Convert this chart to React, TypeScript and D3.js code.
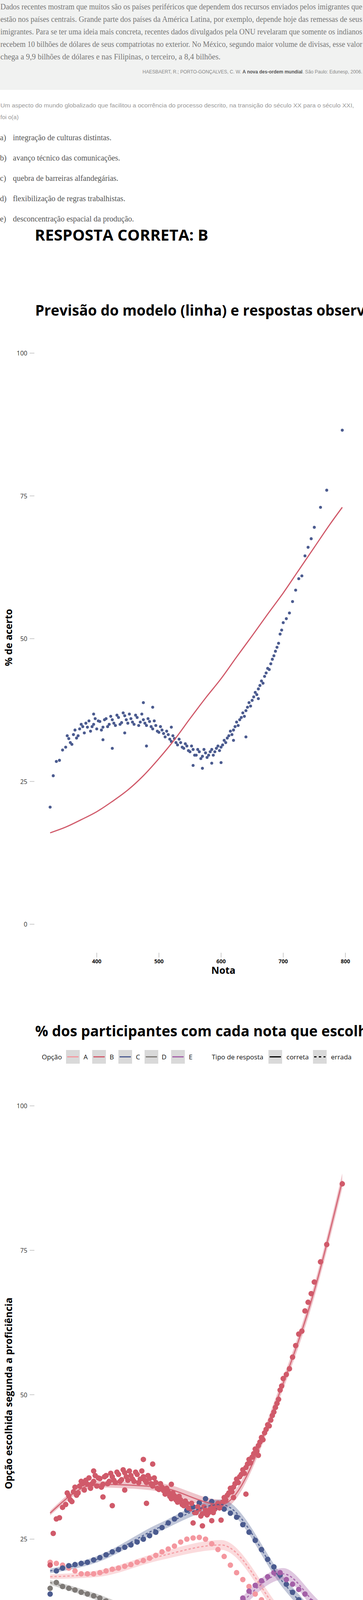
import React from "react";
import * as d3 from "d3";

// ---- texto da questão ----
const textoBase = [
  "Dados recentes mostram que muitos são os países periféricos que dependem dos recursos enviados pelos imigrantes que",
  "estão nos países centrais. Grande parte dos países da América Latina, por exemplo, depende hoje das remessas de seus",
  "imigrantes. Para se ter uma ideia mais concreta, recentes dados divulgados pela ONU revelaram que somente os indianos",
  "recebem 10 bilhões de dólares de seus compatriotas no exterior. No México, segundo maior volume de divisas, esse valor",
  "chega a 9,9 bilhões de dólares e nas Filipinas, o terceiro, a 8,4 bilhões.",
];
const enunciado = [
  "Um aspecto do mundo globalizado que facilitou a ocorrência do processo descrito, na transição do século XX para o século XXI,",
  "foi o(a)",
];
const alternativas = [
  ["a)", "integração de culturas distintas."],
  ["b)", "avanço técnico das comunicações."],
  ["c)", "quebra de barreiras alfandegárias."],
  ["d)", "flexibilização de regras trabalhistas."],
  ["e)", "desconcentração espacial da produção."],
];

// ---- gráfico 1: acerto observado x nota ----
const notaObs = [
  325, 330, 335, 340, 345, 350, 355, 360, 365, 370, 375, 380, 385, 390, 395, 400, 405, 410, 415, 420,
  425, 430, 435, 440, 445, 450, 455, 460, 465, 470, 475, 480, 485, 490, 495, 500, 505, 510, 515, 520,
  525, 530, 535, 540, 545, 550, 555, 560, 565, 570, 575, 580, 585, 590, 595, 600, 605, 610, 615, 620,
  625, 630, 635, 640, 645, 650, 655, 660, 665, 670, 675, 680, 685, 690, 695, 700, 705, 710, 715, 720,
  725, 730, 735, 740, 745, 750, 760, 770, 795,
];
const acertoObs = [
  20.5, 26, 28.5, 28.7, 30.5, 31, 32.5, 31.5, 34, 33, 35, 33.5, 34.5, 33.8, 35, 34.2, 35.5, 34.5, 36, 35,
  35.8, 34.8, 36.2, 35.3, 36.5, 35.2, 36, 35, 36.2, 35.4, 35.8, 34.8, 35.5, 34.2, 34.8, 33.6, 34, 32.8, 33.2, 32,
  32.5, 31.4, 31.8, 30.8, 31.2, 30.2, 30.6, 29.6, 30.2, 29.4, 30, 29.6, 30.6, 30.2, 31.2, 31, 32.2, 32.6, 33.8, 34,
  35.4, 35.8, 37, 37.4, 38.8, 39.2, 40.6, 41.2, 42.6, 43.4, 44.8, 45.6, 47, 48.5, 50.8, 52.8, 53.5, 54.5, 56.5, 58.5,
  60.5, 61, 64.5, 66, 67.5, 69.5, 73, 76, 86.5,
];
const notaObs2 = [
  352.5, 357.5, 362.5, 367.5, 372.5, 377.5, 382.5, 387.5, 392.5, 397.5, 402.5, 407.5, 412.5, 417.5, 422.5, 427.5, 432.5, 437.5,
  442.5, 447.5, 452.5, 457.5, 462.5, 467.5, 472.5, 477.5, 482.5, 487.5, 492.5, 497.5, 502.5, 507.5, 512.5, 517.5, 522.5, 527.5,
  532.5, 537.5, 542.5, 547.5, 552.5, 557.5, 562.5, 567.5, 572.5, 577.5, 582.5, 587.5, 592.5, 597.5, 602.5, 607.5, 612.5, 617.5,
  622.5, 627.5, 632.5, 637.5, 642.5, 647.5, 652.5, 657.5, 662.5, 667.5, 672.5, 677.5, 682.5, 687.5, 692.5, 697.5,
];
const acertoObs2 = [
  33, 31.8, 33.2, 32.6, 34.2, 34.6, 35.2, 35.6, 34.6, 36, 35.6, 34, 35.8, 34.6, 36.4, 35.2, 36.6, 35,
  37, 35.8, 36.8, 35.4, 36.6, 34.8, 36.8, 35.2, 36, 34.6, 35.6, 33.8, 34.6, 33.4, 33.8, 32.4, 33, 31.8,
  32.4, 31, 31.6, 30.4, 31.2, 29.6, 30.6, 29, 30.6, 29.2, 30.2, 29.6, 30.8, 30.4, 31.4, 31.8, 33, 33.2,
  34.6, 34.8, 36.2, 36.4, 38, 38.2, 39.8, 40.2, 41.8, 42.2, 44, 44.6, 46.4, 47.8, 49.2, 51.5,
];
const notaExtra = [410, 425, 475, 480, 490, 555, 570, 600, 640, 395, 445, 520, 585, 620, 660];
const acertoExtra = [32.3, 30.8, 38.8, 31.2, 38, 27.8, 27.3, 28.3, 32.8, 36.8, 33.5, 34.5, 28.2, 32.2, 39.5];
const notaModelo = [325, 350, 375, 400, 425, 450, 475, 500, 525, 550, 575, 600, 625, 650, 675, 700, 725, 750, 775, 795];
const acertoModelo = [16, 17, 18.3, 19.7, 21.5, 23.5, 26, 29, 32.3, 36, 39.6, 43, 46.8, 50.5, 54.3, 58, 62, 66, 70, 73];

// ---- gráfico 2: % por opção ----
const notaOpcao = [
  325, 335, 345, 355, 365, 375, 385, 395, 405, 415, 425, 435, 445, 455, 465, 475, 485, 495, 505, 515, 525, 535, 545, 555,
  565, 575, 585, 595, 605, 615, 625, 635, 645, 655, 665, 675, 685, 695, 705, 715, 725, 735, 745, 755, 765, 775, 785, 795,
];
const opcaoA = [
  21, 20.8, 20.5, 20, 19.5, 19, 19, 19, 19.2, 19.5, 19.8, 20, 20.3, 20.6, 21, 21.3, 21.7, 22.2, 22.8, 23.3, 23.8, 24.5, 25, 25.2,
  25.3, 25, 24.2, 23.2, 22, 20.5, 19.2, 18, 16.8, 15.5, 14.5, 13.3, 12.4, 11.3, 10.3, 9.2, 8, 7, 6, 5, 4.2, 3.5, 2.8, 1.8,
];
const opcaoC = [
  15.5, 19.5, 20, 20.4, 20.6, 20.8, 21, 21.4, 21.8, 22.3, 22.8, 23.2, 23.6, 24, 24.5, 25, 25.6, 26.2, 27, 27.8, 28.5, 29.2, 30, 30.6,
  31.3, 32, 31.5, 30.6, 30.2, 29.5, 28.8, 27.5, 26.2, 24.8, 23.2, 21.5, 20.2, 18.8, 17.2, 15.8, 14.5, 13.5, 12.5, 11, 9.8, 8.5, 7, 5,
];
const opcaoD = [
  16.5, 17.5, 16.8, 16.5, 16.2, 15.8, 15.5, 15.2, 14.8, 14.3, 13.8, 13.3, 12.8, 12.4, 12, 11.5, 11, 10.5, 10, 9.6, 9.2, 8.8, 8.5, 8.3,
  8.1, 7.9, 7.6, 7.5, 7.4, 7.2, 7, 6.8, 6.5, 6.2, 6, 5.7, 5.4, 5.1, 4.9, 4.7, 4.5, 4.2, 4, 3.6, 3.3, 2.8, 2.3, 1.8,
];
const opcaoE = [
  9, 12, 11.8, 11.2, 10.8, 10.4, 10, 9.7, 9.4, 9.1, 8.8, 8.4, 8.1, 7.8, 7.5, 7.2, 7, 6.7, 6.5, 6.3, 6.2, 6.2, 6.3, 6.8,
  7.5, 8.5, 9.6, 10.8, 12, 13, 13.8, 14.8, 16, 17, 17.8, 18.5, 19.2, 19.2, 18, 17.2, 16.3, 15.5, 14.2, 13.2, 12.2, 10.5, 9.5, 5,
];
const notaCurva = [325, 400, 500, 600, 700, 750, 795];
const curvaA = [18.5, 19, 22, 24, 11.5, 6, 1.5];
const curvaB = [29.5, 34.5, 34, 31, 52, 68, 87];
const curvaC = [19.5, 21.5, 27, 31, 17.5, 11, 3];
const curvaD = [17.5, 15, 10.5, 7.5, 5, 4, 2];
const curvaE = [11, 9.5, 6.5, 11, 19, 14, 8.5];
const opcoes = ["A", "B", "C", "D", "E"];
const coresOpcao = ["#f4979f", "#d05a6a", "#4b5b8f", "#7e7a77", "#a35fa7"];

// ---- gráfico 3: quanto acertar somou ----
const acertosDenso = [1, 2, 3, 4, 5, 6, 7, 8, 9, 10, 11, 12, 13, 14, 15, 16, 17, 18, 19, 20, 21];
const densoMin = [0.7, 0.7, 0.7, 0.8, 0.8, 0.8, 1.0, 1.1, 1.4, 1.5, 1.6, 1.6, 1.7, 1.8, 1.9, 1.9, 2.1, 2.2, 2.2, 2.4, 2.5];
const densoMax = [1.1, 1.3, 1.7, 1.9, 2.3, 2.5, 2.6, 2.9, 3.1, 3.0, 3.1, 3.0, 3.0, 3.0, 2.6, 2.9, 2.7, 2.9, 2.9, 2.7, 3.1];
const pontosSoltos: [number, number[]][] = [
  [8, [3.3, 3.0]],
  [9, [6.2]],
  [10, [3.3, 3.9, 4.1, 6.5]],
  [11, [3.5, 3.3]],
  [12, [3.4, 3.3]],
  [14, [3.3, 4.0]],
  [15, [3.1]],
  [16, [3.3]],
  [17, [3.5, 2.3]],
  [22, [3.06, 2.87, 2.57]],
  [23, [3.26, 2.87]],
  [24, [3.8, 3.56, 3.16, 2.74]],
  [25, [4.3, 3.86, 3.41]],
  [26, [4.5, 3.86, 3.6]],
  [27, [4.56, 4.36, 3.76, 3.5]],
  [28, [4.86, 4.4, 4.1]],
  [29, [4.88, 4.56, 4.0, 3.8]],
  [30, [5.18, 4.73, 4.48, 4.24]],
  [31, [5.98, 5.23, 4.48]],
  [32, [6.28, 6.05, 5.73, 5.4, 4.98, 4.3]],
  [33, [7.28, 6.8, 6.55, 6.23, 5.73]],
  [34, [9.4, 8.97, 7.9, 7.4, 6.98, 6.68, 6.35, 6.1, 5.68]],
  [35, [11.1, 10.4, 9.77, 9.47, 9.22, 8.85, 8.3, 7.77, 7.48, 6.78]],
  [36, [10.9, 9.77, 9.52, 9.3, 8.9, 8.3, 7.3]],
  [37, [15.0, 13.4, 13.0, 12.6, 12.15, 11.5, 11.2, 10.96, 10.7, 10.3, 10.0, 9.6, 9.1, 8.7, 8.1, 7.6]],
  [38, [17.7, 17.4, 15.6, 15.1, 14.7, 14.2, 13.6, 13.3, 13.1, 12.8, 12.6, 12.3, 12.1, 11.8, 11.5, 11.2, 10.8, 10.5, 10.1, 9.6, 9.3, 8.4]],
  [39, [20.8, 20.2, 19.3, 18.6, 18.1, 16.6, 16.3, 15.9, 15.6, 15.3, 14.95, 14.6, 14.2, 13.95, 13.6, 13.2, 12.8, 12.5, 12.0, 11.3, 10.6, 10.1, 9.7]],
  [40, [24.7, 23.2, 22.5, 22.1, 21.2, 20.8, 20.4, 19.9, 19.4, 18.4, 17.9, 17.6, 16.9, 16.3, 15.7, 15.3, 14.8, 14.2, 13.3, 13.0, 12.3]],
  [41, [26.6, 25.0, 24.4, 23.9, 22.8, 22.5, 21.85, 21.6, 21.3, 20.9, 20.6, 20.2, 19.7, 18.9, 18.1, 17.6, 17.2, 16.8, 16.3, 15.8]],
  [42, [28.95, 28.8, 27.2, 27.0, 26.7, 24.4, 23.9, 23.2, 22.5, 21.6, 21.2, 19.9, 19.6, 18.8, 18.1, 15.3, 15.15]],
  [43, [28.95, 28.8, 24.5, 24.3, 23.5]],
  [44, [30.3]],
];

const SANS = "'Open Sans', 'Noto Sans', sans-serif";
const SERIF = "'Liberation Serif', serif";
const VERMELHO = "#d05a6a";
const AZUL = "#4b5b8f";

function EixoY({ y, ticks, x0 }: { y: d3.ScaleLinear<number, number>; ticks: number[]; x0: number }) {
  return (
    <g>
      {ticks.map((t) => (
        <g key={t}>
          <text x={x0 - 6} y={y(t) + 6} textAnchor="end" fontSize={16} fill="#333" fontFamily={SANS}>{t}</text>
          <line x1={x0} x2={x0 + 12} y1={y(t)} y2={y(t)} stroke="#bbb" strokeWidth={1.5} />
        </g>
      ))}
    </g>
  );
}

function EixoX({ x, ticks, yTick, titulo }: { x: d3.ScaleLinear<number, number>; ticks: number[]; yTick: number; titulo: string }) {
  return (
    <g>
      {ticks.map((t) => (
        <g key={t}>
          <line x1={x(t)} x2={x(t)} y1={yTick} y2={yTick + 12} stroke="#bbb" strokeWidth={1.5} />
          <text x={x(t)} y={yTick + 27} textAnchor="middle" fontSize={14} fontWeight="bold" fill="#111" fontFamily={SANS}>{t}</text>
        </g>
      ))}
      <text x={(x.range()[0] + x.range()[1]) / 2 + 6} y={yTick + 54} textAnchor="middle" fontSize={25} fontWeight="bold" fill="#000" fontFamily={SANS}>{titulo}</text>
    </g>
  );
}

function TituloY({ cx, cy, texto }: { cx: number; cy: number; texto: string }) {
  return (
    <text transform={`translate(${cx},${cy}) rotate(-90)`} textAnchor="middle" fontSize={25} fontWeight="bold" fill="#000" fontFamily={SANS} dy="0.35em">{texto}</text>
  );
}

export default function App() {
  // gráfico 1
  const x1 = d3.scaleLinear().domain([400, 800]).range([247.6, 883.9]);
  const y1 = d3.scaleLinear().domain([0, 100]).range([2366, 904]);
  const linha1 = d3.line<number>().x((_, i) => x1(notaModelo[i])).y((d) => y1(d)).curve(d3.curveCatmullRom);

  // gráfico 2
  const y2 = d3.scaleLinear().domain([0, 100]).range([4310, 2831]);
  const curvas = [curvaA, curvaB, curvaC, curvaD, curvaE];
  const pontos2 = [opcaoA, null, opcaoC, opcaoD, opcaoE];
  const linha2 = d3.line<number>().x((_, i) => x1(notaCurva[i])).y((d) => y2(d)).curve(d3.curveMonotoneX);
  const faixa2 = d3.area<number>().x((_, i) => x1(notaCurva[i])).y0((d, i) => y2(d - 0.4 - i * 0.15)).y1((d, i) => y2(d + 0.4 + i * 0.15)).curve(d3.curveMonotoneX);

  // gráfico 3
  const x3 = d3.scaleLinear().domain([0, 40]).range([100.7, 792]);
  const y3 = d3.scaleLinear().domain([0, 30]).range([6255, 4793]);

  const legendaOpcaoX = [169, 236, 303, 370, 438];

  return (
    <svg width={929} height={6403} style={{ position: "absolute", left: 0, top: 0, background: "#fff" }}>
      {/* bloco de texto */}
      <rect x={0} y={0} width={929} height={230} fill="#f1f2f1" />
      {textoBase.map((l, i) => (
        <text key={i} x={1} y={24 + i * 32} fontSize={20} fill="#777" fontFamily={SERIF} textLength={i < 4 ? 926 : undefined} lengthAdjust="spacingAndGlyphs">{l}</text>
      ))}
      <text x={927} y={188} textAnchor="end" fontSize={12} fill="#888" fontFamily="'Liberation Sans', sans-serif">
        HAESBAERT, R.; PORTO-GONÇALVES, C. W. <tspan fontWeight="bold" fill="#555">A nova des-ordem mundial</tspan>. São Paulo: Edunesp, 2006.
      </text>
      {enunciado.map((l, i) => (
        <text key={i} x={1} y={275 + i * 30} fontSize={15} fill="#999" fontFamily="'Liberation Sans Narrow', 'Liberation Sans', sans-serif" textLength={i === 0 ? 905 : undefined} lengthAdjust="spacingAndGlyphs">{l}</text>
      ))}
      {alternativas.map(([k, t], i) => (
        <g key={k} fontFamily={SERIF} fontSize={20} fill="#555">
          <text x={0} y={359 + i * 52}>{k}</text>
          <text x={33} y={359 + i * 52}>{t}</text>
        </g>
      ))}
      <text x={89} y={616} fontSize={40} fontWeight="bold" fill="#000" fontFamily={SANS} textLength={444} lengthAdjust="spacingAndGlyphs">RESPOSTA CORRETA: B</text>

      {/* gráfico 1 */}
      <text x={90} y={808} fontSize={37} fontWeight="bold" fill="#000" fontFamily={SANS}>Previsão do modelo (linha) e respostas observadas</text>
      <EixoY y={y1} ticks={[0, 25, 50, 75, 100]} x0={76} />
      <EixoX x={x1} ticks={[400, 500, 600, 700, 800]} yTick={2439} titulo="Nota" />
      <TituloY cx={22} cy={1632} texto="% de acerto" />
      {notaObs.map((n, i) => (
        <circle key={i} cx={x1(n)} cy={y1(acertoObs[i])} r={3.8} fill={AZUL} />
      ))}
      {notaObs2.map((n, i) => (
        <circle key={"b" + i} cx={x1(n)} cy={y1(acertoObs2[i])} r={3.8} fill={AZUL} />
      ))}
      {notaExtra.map((n, i) => (
        <circle key={"e" + i} cx={x1(n)} cy={y1(acertoExtra[i])} r={3.8} fill={AZUL} />
      ))}
      <path d={linha1(acertoModelo) ?? ""} fill="none" stroke={VERMELHO} strokeWidth={3} />

      {/* gráfico 2 */}
      <text x={90} y={2653} fontSize={37} fontWeight="bold" fill="#000" fontFamily={SANS}>% dos participantes com cada nota que escolheu cada opção</text>
      <g fontFamily={SANS} fontSize={17} fill="#111">
        <text x={107} y={2712}>Opção</text>
        {opcoes.map((o, i) => (
          <g key={o}>
            <rect x={legendaOpcaoX[i]} y={2688} width={35} height={35} fill="#d9d9d9" />
            <line x1={legendaOpcaoX[i] + 3} x2={legendaOpcaoX[i] + 32} y1={2705.5} y2={2705.5} stroke={coresOpcao[i]} strokeWidth={3} />
            <text x={legendaOpcaoX[i] + 50} y={2712} textAnchor="middle">{o}</text>
          </g>
        ))}
        <text x={542} y={2712}>Tipo de resposta</text>
        <rect x={687} y={2688} width={35} height={35} fill="#d9d9d9" />
        <line x1={690} x2={719} y1={2705.5} y2={2705.5} stroke="#000" strokeWidth={3} />
        <text x={733} y={2712}>correta</text>
        <rect x={801} y={2688} width={35} height={35} fill="#d9d9d9" />
        <line x1={804} x2={833} y1={2705.5} y2={2705.5} stroke="#000" strokeWidth={3} strokeDasharray="6 6" />
        <text x={847} y={2712}>errada</text>
      </g>
      <EixoY y={y2} ticks={[0, 25, 50, 75, 100]} x0={76} />
      <EixoX x={x1} ticks={[400, 500, 600, 700, 800]} yTick={4385} titulo="Nota" />
      <TituloY cx={22} cy={3567} texto="Opção escolhida segunda a proficiência" />
      {curvas.map((c, k) => (
        <path key={"f" + k} d={faixa2(c) ?? ""} fill={coresOpcao[k]} opacity={0.35} />
      ))}
      {opcoes.map((o, k) =>
        k === 1
          ? notaObs.map((n, i) => <circle key={o + i} cx={x1(n)} cy={y2(acertoObs[i])} r={7} fill={coresOpcao[1]} />)
          : notaOpcao.map((n, i) => <circle key={o + i} cx={x1(n)} cy={y2(pontos2[k]![i])} r={7} fill={coresOpcao[k]} />)
      )}
      {notaObs2.map((n, i) => (
        <circle key={"b2" + i} cx={x1(n)} cy={y2(acertoObs2[i])} r={7} fill={coresOpcao[1]} />
      ))}
      {notaExtra.map((n, i) => (
        <circle key={"e2" + i} cx={x1(n)} cy={y2(acertoExtra[i])} r={7} fill={coresOpcao[1]} />
      ))}
      {curvas.map((c, k) => (
        <path key={"l" + k} d={linha2(c) ?? ""} fill="none" stroke={coresOpcao[k]} strokeWidth={3} strokeDasharray={k === 1 ? undefined : "6 5"} opacity={0.9} />
      ))}

      {/* gráfico 3 */}
      <text x={81} y={4648} fontSize={37} fontWeight="bold" fill="#000" fontFamily={SANS}>Quanto acertar a questão somou à nota</text>
      <text x={81} y={4688} fontSize={22} fill="#000" fontFamily={SANS}>Cada ponto representa pares de alunos com respostas idênticas com exceção desta questão</text>
      <EixoY y={y3} ticks={[0, 10, 20, 30]} x0={68} />
      <EixoX x={x3} ticks={[0, 10, 20, 30, 40]} yTick={6329} titulo="Quantidade de acertos" />
      <TituloY cx={22} cy={5519} texto="Quanto acertar o item aumentou a anota" />
      {acertosDenso.map((a, i) => (
        <rect key={"d" + a} x={x3(a) - 4} y={y3(densoMax[i]) - 3} width={8} height={y3(densoMin[i]) - y3(densoMax[i]) + 6} rx={4} fill={VERMELHO} />
      ))}
      {pontosSoltos.map(([a, vs]) =>
        vs.map((v, j) => <ellipse key={a + "-" + j} cx={x3(a)} cy={y3(v)} rx={4.5} ry={3} fill={VERMELHO} />)
      )}
    </svg>
  );
}
